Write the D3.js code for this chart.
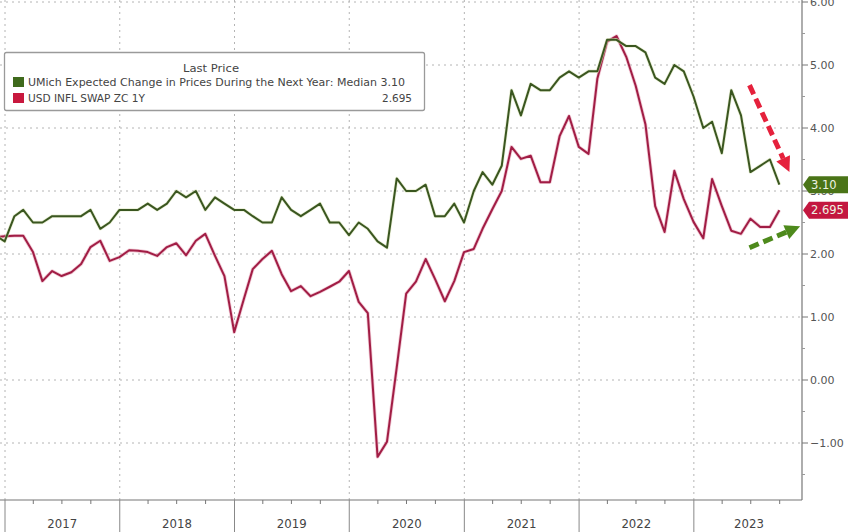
<!DOCTYPE html>
<html><head><meta charset="utf-8">
<script src="https://cdn.jsdelivr.net/npm/d3@7"></script>
<style>html,body{margin:0;padding:0;background:#fff;}svg{display:block;}</style>
</head><body>
<svg id="chart" width="848" height="532"></svg>
<script>
// ---- DATA ----
const firstMonth = new Date(2016, 10, 1);   // Nov 2016 (month-end plotted)
const lastMonth  = new Date(2023, 8, 1);    // Sep 2023
const umichSeries = [
  2.3, 2.2,
  2.6, 2.7, 2.5, 2.5, 2.6, 2.6, 2.6, 2.6, 2.7, 2.4, 2.5, 2.7,
  2.7, 2.7, 2.8, 2.7, 2.8, 3.0, 2.9, 3.0, 2.7, 2.9, 2.8, 2.7,
  2.7, 2.6, 2.5, 2.5, 2.9, 2.7, 2.6, 2.7, 2.8, 2.5, 2.5, 2.3,
  2.5, 2.4, 2.2, 2.1, 3.2, 3.0, 3.0, 3.1, 2.6, 2.6, 2.8, 2.5,
  3.0, 3.3, 3.1, 3.4, 4.6, 4.2, 4.7, 4.6, 4.6, 4.8, 4.9, 4.8,
  4.9, 4.9, 5.4, 5.4, 5.3, 5.3, 5.2, 4.8, 4.7, 5.0, 4.9, 4.5,
  4.0, 4.1, 3.6, 4.6, 4.2, 3.3, 3.4, 3.5, 3.1
];
const swapSeries = [
  2.27, 2.28,
  2.29, 2.29, 2.03, 1.57, 1.73, 1.65, 1.71, 1.84, 2.11, 2.21, 1.89, 1.95,
  2.06, 2.05, 2.03, 1.97, 2.11, 2.17, 1.98, 2.21, 2.32, 1.97, 1.65, 0.76,
  1.29, 1.76, 1.92, 2.05, 1.68, 1.41, 1.49, 1.33, 1.40, 1.48, 1.56, 1.73,
  1.24, 1.06, -1.22, -0.98, 0.20, 1.37, 1.56, 1.92, 1.60, 1.25, 1.57, 2.03,
  2.08, 2.40, 2.71, 3.00, 3.70, 3.51, 3.56, 3.14, 3.14, 3.87, 4.19, 3.70,
  3.59, 4.78, 5.37, 5.46, 5.13, 4.67, 4.06, 2.76, 2.35, 3.32, 2.87, 2.51,
  2.25, 3.19, 2.76, 2.37, 2.32, 2.56, 2.43, 2.43, 2.695
];
const seriesNames = ["UMich Expected Change in Prices During the Next Year: Median", "USD INFL SWAP ZC 1Y"];
const lastPrices = ["3.10", "2.695"];
const yTicks = [-1, 0, 1, 2, 3, 4, 5, 6];
const yMinorTicks = [-1.5, -0.5, 0.5, 1.5, 2.5, 3.5, 4.5, 5.5];
const yearLabels = ["2017", "2018", "2019", "2020", "2021", "2022", "2023"];
// annotation arrows, in data units [date, value]
const arrowDown = [[new Date(2023, 5, 27), 4.68], [new Date(2023, 10, 1), 3.30]];
const arrowUp   = [[new Date(2023, 5, 27), 2.10], [new Date(2023, 11, 5), 2.44]];

// ---- LAYOUT ----
const W = 848, H = 532;
const plotR = 802, plotB = 500;
const colGreen = "#3a5620", colRed = "#a11d45";
const svg = d3.select("#chart");

const months = d3.timeMonth.range(firstMonth, d3.timeMonth.offset(lastMonth, 1));
const monthEnd = m => new Date(m.getFullYear(), m.getMonth() + 1, 0);

const x = d3.scaleTime()
  .domain([new Date(2017, 0, 1), new Date(2024, 0, 1)])
  .range([5, 808.6]);
const y = d3.scaleLinear().domain([0, 6]).range([380, 2]);

// clip
svg.append("clipPath").attr("id", "clip")
  .append("rect").attr("x", 0).attr("y", 0).attr("width", plotR).attr("height", plotB);

// gridlines
const grid = svg.append("g");
grid.selectAll("line.h").data(yTicks).join("line")
  .attr("x1", 0).attr("x2", plotR)
  .attr("y1", d => y(d)).attr("y2", d => y(d))
  .attr("stroke", "#b4b4b4").attr("stroke-width", 1).attr("stroke-dasharray", "2,4");
const yearStarts = yearLabels.map(s => new Date(+s, 0, 1));
grid.selectAll("line.v").data(yearStarts).join("line")
  .attr("x1", d => x(d)).attr("x2", d => x(d))
  .attr("y1", 0).attr("y2", plotB)
  .attr("stroke", "#b4b4b4").attr("stroke-width", 1).attr("stroke-dasharray", "2,4");

// lines
const mk = vals => months.map((m, i) => ({d: monthEnd(m), v: vals[i]}));
const line = d3.line().x(p => x(p.d)).y(p => y(p.v));
const lines = svg.append("g").attr("clip-path", "url(#clip)");
lines.append("path").datum(mk(swapSeries)).attr("d", line)
  .attr("fill", "none").attr("stroke", "#e7a9bb").attr("stroke-width", 3.6).attr("stroke-linejoin", "round").attr("opacity", 0.6);
lines.append("path").datum(mk(swapSeries)).attr("d", line)
  .attr("fill", "none").attr("stroke", colRed).attr("stroke-width", 2).attr("stroke-linejoin", "round");
lines.append("path").datum(mk(umichSeries)).attr("d", line)
  .attr("fill", "none").attr("stroke", "#d9e3b8").attr("stroke-width", 3.4).attr("stroke-linejoin", "round").attr("opacity", 0.6);
lines.append("path").datum(mk(umichSeries)).attr("d", line)
  .attr("fill", "none").attr("stroke", colGreen).attr("stroke-width", 2).attr("stroke-linejoin", "round");

// right axis
const yAxis = svg.append("g");
yAxis.append("line").attr("x1", plotR).attr("x2", plotR).attr("y1", 0).attr("y2", plotB)
  .attr("stroke", "#777").attr("stroke-width", 1.2);
yAxis.selectAll("line.maj").data(yTicks).join("line")
  .attr("x1", plotR).attr("x2", plotR + 6).attr("y1", d => y(d)).attr("y2", d => y(d))
  .attr("stroke", "#777");
yAxis.selectAll("line.min").data(yMinorTicks).join("line")
  .attr("x1", plotR).attr("x2", plotR + 3).attr("y1", d => y(d)).attr("y2", d => y(d))
  .attr("stroke", "#999");
yAxis.selectAll("text").data(yTicks).join("text")
  .attr("x", plotR + 8).attr("y", d => y(d)).attr("dy", "0.35em")
  .attr("font-family", "DejaVu Sans, sans-serif").attr("font-size", 11).attr("fill", "#555")
  .text(d => d3.format(".2f")(d));

// bottom axis
const xAxis = svg.append("g");
xAxis.append("line").attr("x1", 0).attr("x2", plotR).attr("y1", plotB).attr("y2", plotB)
  .attr("stroke", "#777").attr("stroke-width", 1.2);
const quarters = d3.timeMonth.every(3).range(new Date(2017, 0, 1), new Date(2024, 0, 1))
  .filter(d => d.getMonth() !== 0);
xAxis.selectAll("line.q").data(quarters).join("line")
  .attr("x1", d => x(d)).attr("x2", d => x(d)).attr("y1", plotB).attr("y2", plotB + 4)
  .attr("stroke", "#777");
xAxis.selectAll("line.y").data(yearStarts).join("line")
  .attr("x1", d => x(d)).attr("x2", d => x(d)).attr("y1", plotB).attr("y2", H)
  .attr("stroke", "#888");
xAxis.selectAll("text").data(yearLabels).join("text")
  .attr("x", d => Math.min(x(new Date(+d, 6, 2)), 749))
  .attr("y", 528).attr("text-anchor", "middle")
  .attr("font-family", "Liberation Sans Narrow, DejaVu Sans Condensed, sans-serif")
  .attr("font-size", 13).attr("fill", "#444")
  .text(d => d);

// arrows
function arrow(pts, color) {
  const [a, b] = pts.map(p => [x(p[0]), y(p[1])]);
  const dx = b[0] - a[0], dy = b[1] - a[1], L = Math.hypot(dx, dy);
  const ux = dx / L, uy = dy / L, head = 15, hw = 7.5;
  const base = [b[0] - ux * head, b[1] - uy * head];
  svg.append("line").attr("x1", a[0]).attr("y1", a[1]).attr("x2", base[0]).attr("y2", base[1])
    .attr("stroke", color).attr("stroke-width", 5).attr("stroke-dasharray", "10,5");
  svg.append("path")
    .attr("d", `M${b[0]},${b[1]}L${base[0] - uy * hw},${base[1] + ux * hw}L${base[0] + uy * hw},${base[1] - ux * hw}Z`)
    .attr("fill", color);
}
arrow(arrowDown, "#e5213c");
arrow(arrowUp, "#4e8a1c");

// last price tags (drawn over the partly hidden 3.00 axis label, as in the original)
function tag(val, label, fill) {
  const cy = y(val), h = 17;
  const g = svg.append("g");
  g.append("path")
    .attr("d", `M${plotR + 1},${cy}L${plotR + 7},${cy - h / 2}L${W},${cy - h / 2}L${W},${cy + h / 2}L${plotR + 7},${cy + h / 2}Z`)
    .attr("fill", fill);
  g.append("text").attr("x", plotR + 9).attr("y", cy).attr("dy", "0.36em")
    .attr("font-family", "DejaVu Sans, sans-serif").attr("font-size", 11.5).attr("fill", "#eef3e4")
    .text(label);
}
tag(+lastPrices[0], lastPrices[0], "#4a7417");
tag(+lastPrices[1], lastPrices[1], "#c3173f");

// legend
const lg = svg.append("g");
lg.append("rect").attr("x", 4.5).attr("y", 52.5).attr("width", 420).attr("height", 58).attr("rx", 2)
  .attr("fill", "#fff").attr("stroke", "#9a9a9a").attr("stroke-width", 1.3);
lg.append("text").attr("x", 211).attr("y", 68).attr("dy", "0.35em").attr("text-anchor", "middle")
  .attr("font-family", "DejaVu Sans, sans-serif").attr("font-size", 11).attr("fill", "#444")
  .attr("textLength", 56).attr("lengthAdjust", "spacingAndGlyphs")
  .text("Last Price");
const items = [
  {name: seriesNames[0] + " " + lastPrices[0], val: "", col: "#3f6a1c", cy: 82},
  {name: seriesNames[1], val: lastPrices[1], col: "#c8183e", cy: 98}
];
items.forEach(it => {
  lg.append("rect").attr("x", 13).attr("y", it.cy - 5).attr("width", 11).attr("height", 10).attr("fill", it.col);
  const t = lg.append("text").attr("x", 28).attr("y", it.cy).attr("dy", "0.35em")
    .attr("font-family", "DejaVu Sans, sans-serif").attr("font-size", 11).attr("fill", "#444")
    .text(it.name);
  if (it.val === "") t.attr("textLength", 377).attr("lengthAdjust", "spacingAndGlyphs");
  else {
    t.attr("textLength", 117).attr("lengthAdjust", "spacingAndGlyphs");
    lg.append("text").attr("x", 412).attr("y", it.cy).attr("dy", "0.35em").attr("text-anchor", "end")
      .attr("font-family", "DejaVu Sans, sans-serif").attr("font-size", 11).attr("fill", "#444")
      .attr("textLength", 30).attr("lengthAdjust", "spacingAndGlyphs")
      .text(it.val);
  }
});
</script>
</body></html>
